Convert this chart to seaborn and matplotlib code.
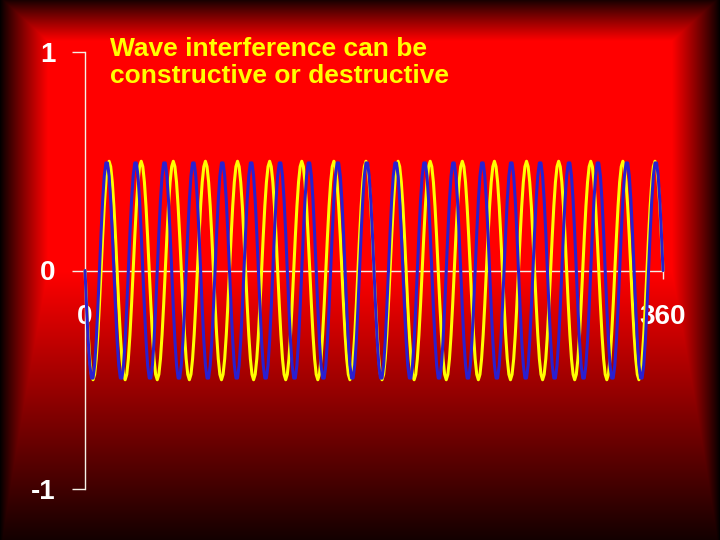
import numpy as np
import pandas as pd
import matplotlib
matplotlib.use("Agg")
import matplotlib.pyplot as plt
import seaborn as sns

# Values
degrees = np.arange(0, 361)          # x axis, 0..360 degrees, sampled each degree
amplitude = 0.5                      # both waves peak at about +/-0.5
blue_cycles = 20                     # blue wave: 20 full cycles over 0..360
yellow_cycles = 18                   # yellow wave: 18 full cycles over 0..360
y_ticks = [-1, 0, 1]
y_tick_labels = ["-1", "0", "1"]
x_ticks = [0, 360]
x_tick_labels = ["0", "360"]
title_lines = ["Wave interference can be", "constructive or destructive"]

blue_wave = -amplitude * np.sin(np.radians(blue_cycles * degrees))
yellow_wave = -amplitude * np.sin(np.radians(yellow_cycles * degrees))

df = pd.concat([
    pd.DataFrame({"deg": degrees, "value": yellow_wave, "wave": "yellow"}),
    pd.DataFrame({"deg": degrees, "value": blue_wave, "wave": "blue"}),
])

sns.set_theme(style="white")
plt.rcParams["font.family"] = ["Liberation Sans", "DejaVu Sans"]

W, H = 720, 540
fig = plt.figure(figsize=(W / 100, H / 100), dpi=100)

# red slide background that darkens toward the edges
bg = fig.add_axes([0, 0, 1, 1], zorder=0)
px = np.arange(W) + 0.5
py = np.arange(H) + 0.5
hx = np.clip(np.minimum(px, W - px) / 48, 0, 1) ** 0.9
vtop = np.clip((py + 3) / 44, 0, 1) ** 0.9
vbot = 1 - np.clip((py - 272) / 290, 0, 1)
vy = np.minimum(vtop, vbot)
inten = np.minimum(hx[None, :], vy[:, None])
rgb = np.zeros((H, W, 3))
rgb[..., 0] = inten
bg.imshow(rgb, aspect="auto", interpolation="bilinear")
bg.set_axis_off()

# chart area: x 0..360 -> px 85..663, y 1..-1 -> px 52..489
ax = fig.add_axes([85 / W, (H - 489) / H, 578 / W, 437 / H], zorder=1)
ax.patch.set_alpha(0)

sns.lineplot(data=df, x="deg", y="value", hue="wave",
             palette={"yellow": "#ffff00", "blue": "#2a1fd0"},
             linewidth=2.2, legend=False, ax=ax, sort=False, zorder=3)
for ln in ax.lines:
    ln.set_clip_on(False)

ax.set_xlim(0, 360)
ax.set_ylim(-1, 1)
ax.set_xlabel("")
ax.set_ylabel("")

for s in ["top", "right"]:
    ax.spines[s].set_visible(False)
ax.spines["bottom"].set_position(("data", 0))
for s in ["left", "bottom"]:
    ax.spines[s].set_color("#f4f0e6")
    ax.spines[s].set_linewidth(1.0)
    ax.spines[s].set_zorder(2)

ax.set_yticks(y_ticks)
ax.set_yticklabels(y_tick_labels)
ax.set_xticks(x_ticks)
ax.set_xticklabels(x_tick_labels)
ax.tick_params(axis="y", direction="out", length=9.5, width=1.0, color="#f4f0e6",
               pad=12, labelsize=20, labelcolor="white", left=True)
ax.tick_params(axis="x", direction="out", length=6, width=1.0, color="#f4f0e6",
               pad=18, labelsize=20, labelcolor="white", bottom=True)
for lab in ax.get_xticklabels() + ax.get_yticklabels():
    lab.set_fontweight("bold")
    lab.set_zorder(1)

for i, line in enumerate(title_lines):
    fig.text(110 / W, 1 - (56 + 27 * i) / H, line, color="#ffff00",
             fontsize=19, fontweight="bold", ha="left", va="baseline")

fig.savefig("out.png", dpi=100)
